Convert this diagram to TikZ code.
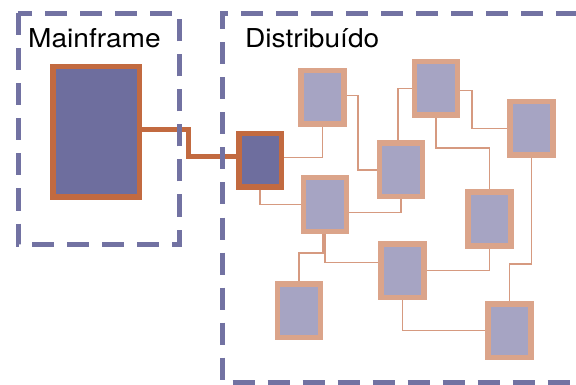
\documentclass[tikz,border=0pt]{standalone}
\usepackage{fontspec}
\setmainfont{TeX Gyre Heros}[FakeStretch=1.08]
\usetikzlibrary{positioning,calc}
\pgfdeclarelayer{bg}
\pgfsetlayers{bg,main}
\definecolor{frameblue}{HTML}{7272A2}
\definecolor{darkfill}{HTML}{6E6E9E}
\definecolor{lightfill}{HTML}{A6A4C3}
\definecolor{darkedge}{HTML}{C26A40}
\definecolor{lightedge}{HTML}{DBA48A}
\definecolor{wire}{HTML}{D69A80}

\begin{document}
\begin{tikzpicture}[x=1pt,y=-1pt,
    zone/.style={draw=frameblue,line width=5pt,dash pattern=on 22pt off 13pt},
    host/.style={draw=darkedge,fill=darkfill,line width=5.5pt,inner sep=0pt},
    peer/.style={draw=lightedge,fill=lightfill,line width=5.5pt,inner sep=0pt,
                 minimum width=43pt,minimum height=53.5pt},
    link/.style={draw=wire,line width=1.6pt},
    trunk/.style={draw=darkedge,line width=5pt},
    zonelabel/.style={font=\fontsize{26}{31}\selectfont,anchor=base west,inner sep=0pt}]

    \useasboundingbox (0,0) rectangle (576,385);

    % the two zones
    \draw[zone] (18,13.5) rectangle (179,244.5);
    \draw[zone] (578,13.5) -- (222,13.5) -- (222,382) -- (578,382);
    \node [zonelabel] (lmain) at (28,48) {Mainframe};
    \node [zonelabel] (ldist) at (245,48) {Distribuído};

    \node [host,minimum width=86.5pt,minimum height=130.5pt] (mainframe) at (96,132) {};
    \node [host,minimum width=42.5pt,minimum height=53.5pt] (hub) at (260,160.5) {};

    \node [peer] (p1) at (322.5,97.5) {};
    \node [peer] (p2) at (325,204.5) {};
    \node [peer] (p3) at (401,170) {};
    \node [peer] (p4) at (436,88.5) {};
    \node [peer] (p5) at (531.5,128.5) {};
    \node [peer] (p6) at (489.5,219) {};
    \node [peer] (p7) at (402.5,270.5) {};
    \node [peer] (p8) at (299,310.5) {};
    \node [peer] (p9) at (509.5,330.5) {};

    \begin{pgfonlayer}{bg}    % connectors behind the boxes
        \draw[trunk] ($(mainframe.east)+(0,-2)$) -- ++(46,0) |- ($(hub.west)+(0,-4)$);
        \draw[link] ($(hub.east)+(0,-3)$) -| (p1.south);
        \draw[link] (hub.south) |- (p2.west);
        \draw[link] ($(p1.east)+(0,-2)$) -- ++(11,0) |- (p3.west);
        \draw[link] ($(p2.east)+(0,8)$) -| (p3.south);
        \draw[link] ($(p3.north)+(-3,0)$) |- (p4.west);
        \draw[link] ($(p4.east)+(0,2)$) -- ++(12,0) |- (p5.west);
        \draw[link] (p4.south) -- ++(0,30) -| (p6.north);
        \draw[link] (p5.south) -- ++(0,106) -| (p9.north);
        \draw[link] ($(p2.south)+(-2,0)$) -- ++(0,19) -| (p8.north);
        \draw[link] (p2.south) |- ($(p7.west)+(0,-8)$);
        \draw[link] (p7.east) -| (p6.south);
        \draw[link] (p7.south) |- (p9.west);
    \end{pgfonlayer}
\end{tikzpicture}
\end{document}
